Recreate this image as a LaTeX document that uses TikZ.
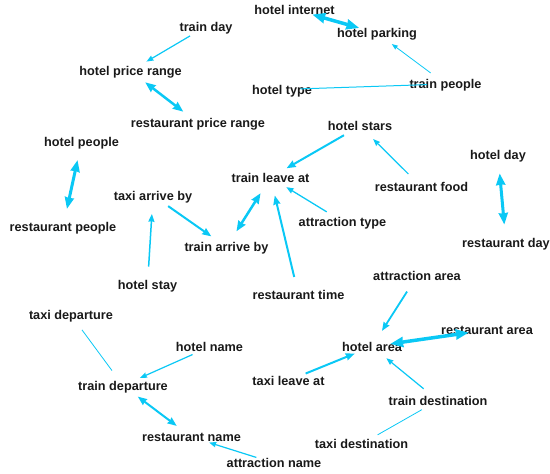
\documentclass[tikz,border=0pt]{standalone}
\usepackage{fontspec}
\setmainfont{Liberation Sans}
\usetikzlibrary{arrows.meta}
\definecolor{edgecol}{RGB}{10,200,245}
\tikzset{
  lab/.style={font=\fontsize{12.7}{14}\selectfont\bfseries, text=black!90, inner sep=0pt, text height=10pt, text depth=1pt},
  edge/.style={draw=edgecol, line width=#1, shorten <=18.5pt, shorten >=18.5pt},
  one/.style={edge=#1, -{Stealth[length=4pt 2.5, width=3pt 2, inset=0.5pt]}},
  two/.style={edge=#1, {Stealth[length=4pt 2.5, width=3pt 2, inset=0.5pt]}-{Stealth[length=4pt 2.5, width=3pt 2, inset=0.5pt]}},
  plain/.style={edge=#1}
}
\begin{document}
\begin{tikzpicture}[x=1pt,y=-1pt]
\useasboundingbox (0,0) rectangle (550,474);
\node[lab] (hi) at (294.5,9.5) {hotel internet};
\node[lab] (hp) at (377,33) {hotel parking};
\node[lab] (td) at (206,26.5) {train day};
\node[lab] (hpr) at (130.5,71) {hotel price range};
\node[lab] (ht) at (282,89.5) {hotel type};
\node[lab] (tp) at (445.5,84) {train people};
\node[lab] (rpr) at (198,123) {restaurant price range};
\node[lab] (hs) at (360,126) {hotel stars};
\node[lab] (hpe) at (81.5,142) {hotel people};
\node[lab] (hd) at (498,155) {hotel day};
\node[lab] (tla) at (270.5,177.5) {train leave at};
\node[lab] (rf) at (421.5,187) {restaurant food};
\node[lab] (tab) at (153,195.5) {taxi arrive by};
\node[lab] (at) at (342.5,221.5) {attraction type};
\node[lab] (rpe) at (63,227) {restaurant people};
\node[lab] (tarb) at (226.5,247) {train arrive by};
\node[lab] (rd) at (506,243) {restaurant day};
\node[lab] (hst) at (147.5,285) {hotel stay};
\node[lab] (rt) at (298.5,295) {restaurant time};
\node[lab] (aa) at (417,276) {attraction area};
\node[lab] (tdep) at (71,315) {taxi departure};
\node[lab] (ra) at (487,330) {restaurant area};
\node[lab] (hn) at (209.5,347) {hotel name};
\node[lab] (ha) at (372,346.5) {hotel area};
\node[lab] (trd) at (123,385.5) {train departure};
\node[lab] (tla2) at (288.5,380.5) {taxi leave at};
\node[lab] (tde) at (438,400.5) {train destination};
\node[lab] (rn) at (191.5,437) {restaurant name};
\node[lab] (tdes) at (361.5,444) {taxi destination};
\node[lab] (an) at (274,463) {attraction name};

\draw[two=3.5pt] (hi.center) -- (hp.center);
\draw[one=1.2pt] (td.center) -- (hpr.center);
\draw[one=0.8pt] (tp.center) -- (hp.center);
\draw[plain=1pt] (ht.center) -- (tp.center);
\draw[two=2.5pt] (hpr.center) -- (rpr.center);
\draw[one=2pt] (hs.center) -- (tla.center);
\draw[one=1.2pt] (rf.center) -- (hs.center);
\draw[two=3pt] (hd.center) -- (rd.center);
\draw[two=3pt] (hpe.center) -- (rpe.center);
\draw[one=2pt] (tab.center) -- (tarb.center);
\draw[one=1.5pt] (hst.center) -- (tab.center);
\draw[two=2.5pt] (tla.center) -- (tarb.center);
\draw[one=1.3pt] (at.center) -- (tla.center);
\draw[one=2pt] (rt.center) -- (tla.center);
\draw[one=1.8pt] (aa.center) -- (ha.center);
\draw[two=3.5pt] (ha.center) -- (ra.center);
\draw[one=2pt] (tla2.center) -- (ha.center);
\draw[one=1.2pt] (tde.center) -- (ha.center);
\draw[plain=0.8pt] (tde.center) -- (tdes.center);
\draw[plain=0.8pt] (tdep.center) -- (trd.center);
\draw[one=1.2pt] (hn.center) -- (trd.center);
\draw[two=2pt] (trd.center) -- (rn.center);
\draw[one=1.2pt] (an.center) -- (rn.center);
\end{tikzpicture}
\end{document}
